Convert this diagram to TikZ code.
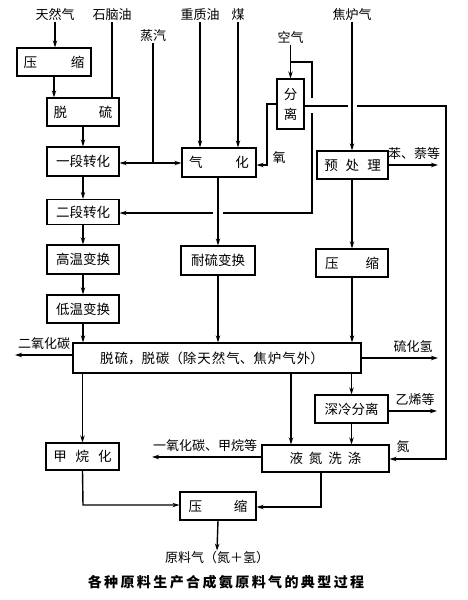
\documentclass[tikz,border=0pt]{standalone}
\usepackage{fontspec}
\newfontfamily\cjk{Noto Sans CJK SC}
\usetikzlibrary{arrows.meta}
\newcommand\cgap{\hspace{2.4pt}}
\newcommand\tgap{\hspace{1pt}}
\tikzset{
 box/.style={draw, line width=1.3pt, inner sep=0pt, font=\cjk\fontsize{13.5}{15}\selectfont, align=center},
 lab/.style={inner sep=1pt, font=\cjk\fontsize{13}{15}\selectfont},
 ln/.style={line width=1.4pt},
 arr/.style={ln, -{Stealth[length=7pt,width=4.5pt]}},
}
\begin{document}
\begin{tikzpicture}[x=1pt,y=-1pt]
\fill[white] (0,0) rectangle (467,600);
\useasboundingbox (0,0) rectangle (467,600);
% boxes
\node[box, minimum width=74pt, minimum height=28pt] (ys1) at (54,62) {压\hspace{34pt}缩};
\node[box, minimum width=72pt, minimum height=28pt] (tl) at (83,112) {脱\hspace{32pt}硫};
\node[box, minimum width=72pt, minimum height=29pt] (zh1) at (83,161.5) {一段转化};
\node[box, minimum width=74pt, minimum height=29pt] (qh) at (219,162.5) {气\hspace{33pt}化};
\node[box, minimum width=27pt, minimum height=50pt] (fl) at (290.5,104) {分\\[5pt]离};
\node[box, minimum width=71pt, minimum height=28pt] (ycl) at (352.5,165) {预\hspace{8pt}处\hspace{8pt}理};
\node[box, minimum width=72pt, minimum height=25pt] (zh2) at (83,212) {二段转化};
\node[box, minimum width=72pt, minimum height=29pt] (gw) at (83,259.5) {高温变换};
\node[box, minimum width=72pt, minimum height=28pt] (dw) at (83,309) {低温变换};
\node[box, minimum width=74pt, minimum height=29pt] (nl) at (218,260.5) {耐硫变换};
\node[box, minimum width=72pt, minimum height=28pt] (ys2) at (352,263) {压\hspace{27pt}缩};
\node[box, minimum width=288pt, minimum height=30pt] (tt) at (217,358) {脱\tgap 硫，脱\tgap 碳（除\tgap 天\tgap 然\tgap 气、焦\tgap 炉\tgap 气\tgap 外）\hspace{10pt}};
\node[box, minimum width=73pt, minimum height=28pt] (sl) at (351.5,409) {深冷分离};
\node[box, minimum width=73pt, minimum height=27pt] (jw) at (82.5,456.5) {甲\hspace{9pt}烷\hspace{9pt}化};
\node[box, minimum width=127pt, minimum height=27pt] (yd) at (325.5,458.5) {液\hspace{6pt}氮\hspace{6pt}洗\hspace{6pt}涤};
\node[box, minimum width=76pt, minimum height=28pt] (ys3) at (218,506) {压\hspace{32pt}缩};
% labels
\node[lab] (l1) at (55,15) {天然气};
\node[lab] (l2) at (112,15) {石脑油};
\node[lab] (l3) at (153,36) {蒸汽};
\node[lab] (l4) at (200,15) {重质油};
\node[lab] (l5) at (238,15) {煤};
\node[lab] (l6) at (352,15) {焦炉气};
\node[lab] (l7) at (290.5,38) {空气};
\node[lab] (lo) at (279,158) {氧};
\node[lab] (lb) at (414,154) {苯、萘等};
\node[lab] (lh) at (413,347) {硫化氢};
\node[lab] (lc) at (44,344) {二氧化碳};
\node[lab] (le) at (415,400) {乙烯等};
\node[lab] (ln2) at (403,447) {氮};
\node[lab] (lco) at (205,446) {一氧化碳、甲烷等};
\node[lab] (out) at (217,558) {原料气（氮＋氢）};
\node[lab, font=\cjk\bfseries\fontsize{14}{16}\selectfont] (cap) at (226,582) {各\cgap 种\cgap 原\cgap 料\cgap 生\cgap 产\cgap 合\cgap 成\cgap 氨\cgap 原\cgap 料\cgap 气\cgap 的\cgap 典\cgap 型\cgap 过\cgap 程};
% coordinates
\coordinate (j1) at (153,163);
\coordinate (a1) at (290.5,62);
\coordinate (a2) at (312,62);
\coordinate (a3) at (312,98);
\coordinate (a4) at (312,113);
\coordinate (a5) at (312,213);
\coordinate (a6) at (223,213);
\coordinate (a7) at (213,213);
\coordinate (o1) at (267,104);
\coordinate (o2) at (267,165);
\coordinate (n1) at (348,106);
\coordinate (n2) at (357,106);
\coordinate (n3) at (446,106);
\coordinate (n4) at (446,459);
\coordinate (b1) at (438,165);
\coordinate (c1) at (15,355);
\coordinate (h1) at (438,358);
\coordinate (e1) at (437,411);
\coordinate (x1) at (291,0);
\coordinate (m1) at (152,457);
\coordinate (p1) at (83,505);
\coordinate (p2) at (321,507);
% connectors
\draw[arr] (l1.south) -- (l1.south |- ys1.north);
\draw[arr] (ys1.south) -- (ys1.south |- tl.north);
\draw[ln] (l2.south) -- (l2.south |- tl.north);
\draw[arr] (tl.south) -- (zh1.north);
\draw[ln] (l3.south) -- (j1);
\draw[arr] (j1) -- (zh1.east |- j1);
\draw[arr] (j1) -- (qh.west |- j1);
\draw[arr] (l4.south) -- (l4.south |- qh.north);
\draw[arr] (l5.south) -- (l5.south |- qh.north);
\draw[arr] (l7.south) -- (l7.south |- fl.north);
\draw[ln] (a1) -- (a2) -- (a3);
\draw[ln] (a4) -- (a5) -- (a6);
\draw[arr] (a7) -- (zh2.east |- a7);
\draw[arr] (fl.west |- o1) -- (o1) -- (o2) -- (qh.east |- o2);
\draw[ln] (fl.east |- n1) -- (n1);
\draw[arr] (n2) -- (n3) -- (n4) -- (yd.east |- n4);
\draw[arr] (l6.south) -- (l6.south |- ycl.north);
\draw[arr] (ycl.east |- b1) -- (b1);
\draw[arr] (nl.north |- qh.south) -- (nl.north);
\draw[arr] (zh1.south) -- (zh2.north);
\draw[arr] (zh2.south) -- (gw.north);
\draw[arr] (gw.south) -- (dw.north);
\draw[arr] (dw.south) -- (dw.south |- tt.north);
\draw[arr] (nl.south) -- (nl.south |- tt.north);
\draw[arr] (ys2.north |- ycl.south) -- (ys2.north);
\draw[arr] (ys2.south) -- (ys2.south |- tt.north);
\draw[arr] (tt.west |- c1) -- (c1);
\draw[arr] (tt.east |- h1) -- (h1);
\draw[arr] (jw.north |- tt.south) -- (jw.north);
\draw[arr] (tt.south -| x1) -- (yd.north -| x1);
\draw[arr] (sl.north |- tt.south) -- (sl.north);
\draw[arr] (sl.south) -- (sl.south |- yd.north);
\draw[arr] (sl.east |- e1) -- (e1);
\draw[arr] (yd.west |- m1) -- (m1);
\draw[arr] (jw.south) -- (p1) -- (ys3.west |- p1);
\draw[arr] (yd.south -| p2) -- (p2) -- (ys3.east |- p2);
\draw[arr] (ys3.south) -- (out.north);
\end{tikzpicture}
\end{document}
